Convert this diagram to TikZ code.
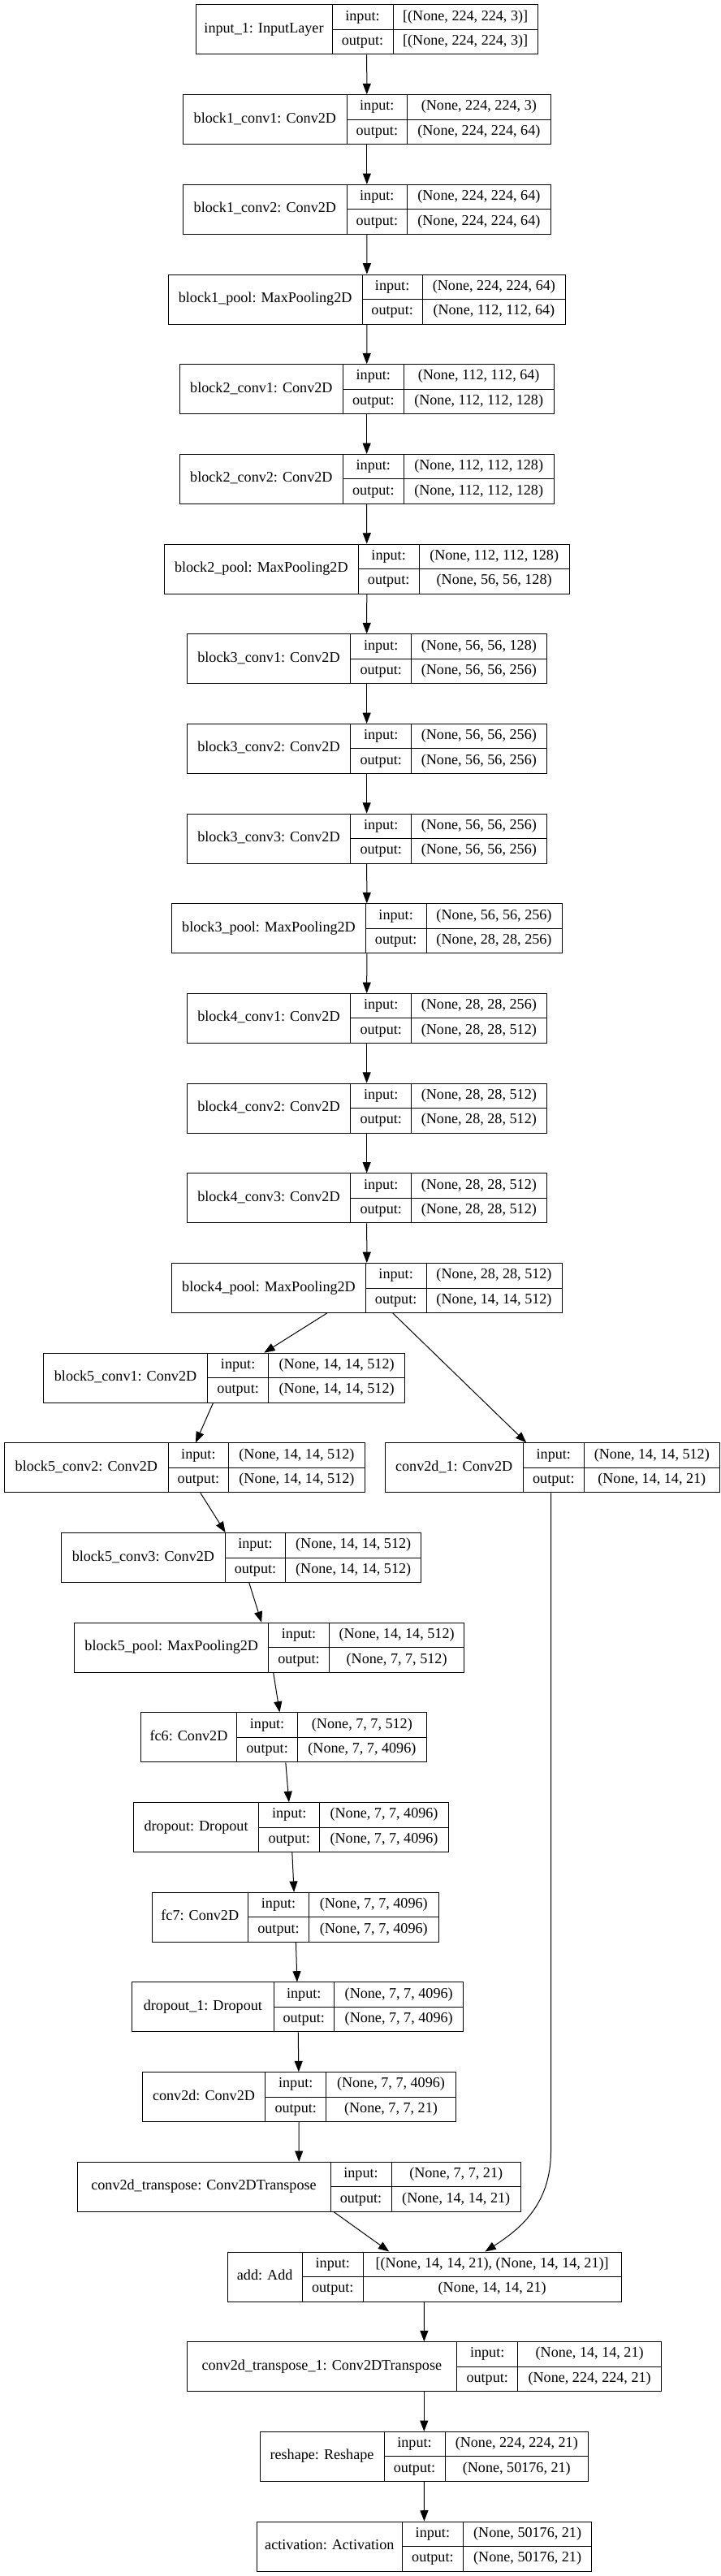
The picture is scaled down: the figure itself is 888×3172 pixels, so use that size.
\documentclass[tikz,border=0pt]{standalone}
\usepackage{fontspec}
\setmainfont{Liberation Serif}
\usetikzlibrary{arrows.meta}

\newcommand{\layer}[9]{%
  \pgfmathsetmacro{\lyT}{6+110.68*#6}%
  \pgfmathsetmacro{\lyW}{0.75*(#5-#2)}%
  \node[layerbox, minimum width=\lyW pt] (#1) at ({(#2+#5)/2},{\lyT+30.5}) {};
  \draw[cellline] (#3,\lyT) -- ++(0,61) (#4,\lyT) -- ++(0,61) (#3,\lyT+30.5) -- (#5,\lyT+30.5);
  \node[celltext] (#1-name) at ({(#2+#3)/2},{\lyT+30.5}) {#7};
  \node[celltext] (#1-inkey) at ({(#3+#4)/2},{\lyT+15.25}) {input:};
  \node[celltext] (#1-outkey) at ({(#3+#4)/2},{\lyT+45.75}) {output:};
  \node[celltext] (#1-inval) at ({(#4+#5)/2},{\lyT+15.25}) {#8};
  \node[celltext] (#1-outval) at ({(#4+#5)/2},{\lyT+45.75}) {#9};
}

\begin{document}
\begin{tikzpicture}[x=0.75pt,y=-0.75pt]
\tikzset{layerbox/.style={draw, line width=0.75pt, inner sep=0pt, minimum height=45.75pt}}
\tikzset{cellline/.style={line width=0.75pt}}
\tikzset{celltext/.style={inner sep=0pt, font=\fontsize{13.6}{16}\selectfont, text height=0.7em, text depth=0.1em}}
\tikzset{flow/.style={line width=0.75pt, -{Triangle[length=10pt,width=7.5pt]}}}

\fill[white] (0,0) rectangle (888,3172);
\useasboundingbox (0,0) rectangle (888,3172);

\layer{in1}{241}{409}{484}{662.3}{0}{input\_1: InputLayer}{[(None, 224, 224, 3)]}{[(None, 224, 224, 3)]}
\layer{b1c1}{225.7}{427}{501.7}{678}{1}{block1\_conv1: Conv2D}{(None, 224, 224, 3)}{(None, 224, 224, 64)}
\layer{b1c2}{225.7}{427}{501.7}{678}{2}{block1\_conv2: Conv2D}{(None, 224, 224, 64)}{(None, 224, 224, 64)}
\layer{b1p}{207.3}{446}{520.3}{696.5}{3}{block1\_pool: MaxPooling2D}{(None, 224, 224, 64)}{(None, 112, 112, 64)}
\layer{b2c1}{221}{422.7}{497}{682.3}{4}{block2\_conv1: Conv2D}{(None, 112, 112, 64)}{(None, 112, 112, 128)}
\layer{b2c2}{221}{422.7}{497}{682.3}{5}{block2\_conv2: Conv2D}{(None, 112, 112, 128)}{(None, 112, 112, 128)}
\layer{b2p}{202.3}{441.3}{516}{701.3}{6}{block2\_pool: MaxPooling2D}{(None, 112, 112, 128)}{(None, 56, 56, 128)}
\layer{b3c1}{230.3}{431.7}{506.7}{673}{7}{block3\_conv1: Conv2D}{(None, 56, 56, 128)}{(None, 56, 56, 256)}
\layer{b3c2}{230.3}{431.7}{506.7}{673}{8}{block3\_conv2: Conv2D}{(None, 56, 56, 256)}{(None, 56, 56, 256)}
\layer{b3c3}{230.3}{431.7}{506.7}{673}{9}{block3\_conv3: Conv2D}{(None, 56, 56, 256)}{(None, 56, 56, 256)}
\layer{b3p}{211.7}{450.3}{525}{692}{10}{block3\_pool: MaxPooling2D}{(None, 56, 56, 256)}{(None, 28, 28, 256)}
\layer{b4c1}{230.3}{431.7}{506.7}{673}{11}{block4\_conv1: Conv2D}{(None, 28, 28, 256)}{(None, 28, 28, 512)}
\layer{b4c2}{230.3}{431.7}{506.7}{673}{12}{block4\_conv2: Conv2D}{(None, 28, 28, 512)}{(None, 28, 28, 512)}
\layer{b4c3}{230.3}{431.7}{506.7}{673}{13}{block4\_conv3: Conv2D}{(None, 28, 28, 512)}{(None, 28, 28, 512)}
\layer{b4p}{211.7}{450.3}{525}{692}{14}{block4\_pool: MaxPooling2D}{(None, 28, 28, 512)}{(None, 14, 14, 512)}
\layer{b5c1}{53.5}{255.6}{330.7}{498.6}{15}{block5\_conv1: Conv2D}{(None, 14, 14, 512)}{(None, 14, 14, 512)}
\layer{b5c2}{5.7}{207}{281.8}{449}{16}{block5\_conv2: Conv2D}{(None, 14, 14, 512)}{(None, 14, 14, 512)}
\layer{c2d1}{474}{644.3}{719.4}{886.2}{16}{conv2d\_1: Conv2D}{(None, 14, 14, 512)}{(None, 14, 14, 21)}
\layer{b5c3}{75.7}{277.1}{351.8}{518.6}{17}{block5\_conv3: Conv2D}{(None, 14, 14, 512)}{(None, 14, 14, 512)}
\layer{b5p}{91.8}{330.7}{405.4}{571.8}{18}{block5\_pool: MaxPooling2D}{(None, 14, 14, 512)}{(None, 7, 7, 512)}
\layer{fc6}{173.2}{291.8}{366.4}{525.4}{19}{fc6: Conv2D}{(None, 7, 7, 512)}{(None, 7, 7, 4096)}
\layer{drop}{164.3}{318.9}{393.6}{552.5}{20}{dropout: Dropout}{(None, 7, 7, 4096)}{(None, 7, 7, 4096)}
\layer{fc7}{187}{305.6}{380.5}{540}{21}{fc7: Conv2D}{(None, 7, 7, 4096)}{(None, 7, 7, 4096)}
\layer{drop1}{162.8}{337}{411.5}{570.9}{22}{dropout\_1: Dropout}{(None, 7, 7, 4096)}{(None, 7, 7, 4096)}
\layer{c2d}{175.3}{326.7}{401.8}{561.2}{23}{conv2d: Conv2D}{(None, 7, 7, 4096)}{(None, 7, 7, 21)}
\layer{c2dt}{95}{407}{482}{641.4}{24}{conv2d\_transpose: Conv2DTranspose}{(None, 7, 7, 21)}{(None, 14, 14, 21)}
\layer{add}{280}{372.3}{447.3}{765}{25}{add: Add}{[(None, 14, 14, 21), (None, 14, 14, 21)]}{(None, 14, 14, 21)}
\layer{c2dt1}{230}{562.7}{637.7}{814.6}{26}{conv2d\_transpose\_1: Conv2DTranspose}{(None, 14, 14, 21)}{(None, 224, 224, 21)}
\layer{resh}{320}{473}{548}{724.6}{27}{reshape: Reshape}{(None, 224, 224, 21)}{(None, 50176, 21)}
\layer{act}{316.2}{495.4}{570.4}{728.8}{28}{activation: Activation}{(None, 50176, 21)}{(None, 50176, 21)}

\foreach \a/\b in {in1/b1c1, b1c1/b1c2, b1c2/b1p, b1p/b2c1, b2c1/b2c2, b2c2/b2p, b2p/b3c1, b3c1/b3c2, b3c2/b3c3, b3c3/b3p, b3p/b4c1, b4c1/b4c2, b4c2/b4c3, b4c3/b4p, b4p/b5c1, b4p/c2d1, b5c1/b5c2, b5c2/b5c3, b5c3/b5p, b5p/fc6, fc6/drop, drop/fc7, fc7/drop1, drop1/c2d, c2d/c2dt, c2dt/add, add/c2dt1, c2dt1/resh, resh/act}
  \draw[flow] (\a) -- (\b);

\draw[flow] ([xshift=-1.2pt]c2d1.south) .. controls (678.5,2300) and (679,2500) .. (678.5,2650) .. controls (678,2715) and (640,2745) .. ([xshift=56.25pt]add.north);

\end{tikzpicture}
\end{document}
